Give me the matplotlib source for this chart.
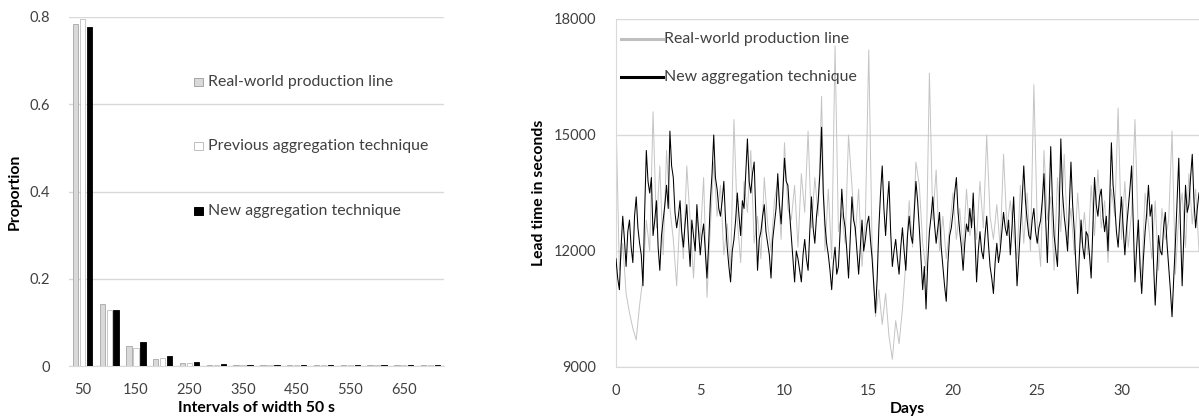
import numpy as np
import matplotlib
matplotlib.use("Agg")
import matplotlib.pyplot as plt
from matplotlib.patches import Rectangle
from matplotlib.lines import Line2D

plt.rcParams['font.family'] = ['Lato', 'DejaVu Sans']

# ---------------- data: left panel ----------------
intervals = [50, 100, 150, 200, 250, 300, 350, 400, 450, 500, 550, 600, 650, 700]
tick_labels = ["50", "150", "250", "350", "450", "550", "650"]
real_world = [0.785, 0.143, 0.045, 0.016, 0.007, 0.003, 0.002, 0.002, 0.0018, 0.0018, 0.0018, 0.0015, 0.0018, 0.0018]
previous = [0.795, 0.128, 0.042, 0.019, 0.007, 0.003, 0.002, 0.002, 0.0018, 0.0018, 0.0018, 0.0015, 0.0018, 0.0018]
new_tech = [0.776, 0.128, 0.056, 0.024, 0.009, 0.004, 0.003, 0.002, 0.0018, 0.0018, 0.0018, 0.0015, 0.0018, 0.0018]
bar_names = ["Real-world production line", "Previous aggregation technique", "New aggregation technique"]

# ---------------- data: right panel ----------------
# New aggregation technique, sampled every 0.1 day
new_step = 0.1
new_lead = [
    11800, 11300, 11000, 12100, 12900, 12300, 11600, 12500, 12800, 12100,
    11700, 12900, 13400, 12600, 12200, 11900, 11100, 13000, 14600, 13800,
    13500, 13900, 12400, 12800, 13300, 12100, 11500, 12400, 12800, 13200,
    13700, 13100, 15100, 14200, 13900, 13000, 12600, 12900, 13300, 12500,
    12100, 12700, 13200, 12300, 11600, 12800, 12400, 12000, 13200, 12500,
    11900, 12400, 12700, 12000, 11300, 12200, 13300, 14000, 15000, 13900,
    13600, 13100, 12900, 13300, 13800, 12800, 12100, 11600, 11200, 12000,
    12300, 12800, 13500, 12900, 12400, 13300, 13100, 14000, 14900, 13800,
    13500, 14000, 14300, 12900, 11500, 12300, 12500, 12900, 13200, 12500,
    12200, 11900, 11300, 12300, 12700, 13100, 14000, 13200, 12700, 13500,
    14400, 13800, 13700, 13000, 12400, 11800, 11200, 12000, 11800, 11500,
    11200, 11900, 12300, 11800, 11500, 12500, 13400, 12600, 12200, 12900,
    13300, 14000, 15200, 13500, 12700, 12200, 11900, 11500, 11000, 11700,
    12100, 11400, 11600, 12500, 13600, 12900, 12600, 12000, 11300, 12300,
    13400, 12800, 12600, 12000, 11400, 12100, 12800, 12000, 12300, 12700,
    12900, 12300, 11800, 11100, 10400, 11300, 12600, 13500, 14200, 13100,
    12400, 13200, 13800, 12500, 11600, 12000, 12300, 11800, 11400, 12100,
    12600, 12000, 11500, 12400, 12900, 12400, 12200, 13000, 13800, 13300,
    12600, 11800, 11000, 11600, 10500, 11700, 12500, 12900, 13400, 12700,
    12200, 12600, 13000, 12100, 11600, 11100, 10700, 11700, 12400, 12600,
    13000, 13500, 13900, 13000, 12500, 12100, 11500, 12200, 12700, 12500,
    13100, 12600, 13500, 12400, 11200, 12000, 12500, 12000, 11800, 12400,
    12900, 12200, 11600, 11300, 10900, 11700, 12200, 11700, 12000, 12500,
    13000, 12600, 12400, 12800, 11900, 12600, 13400, 12300, 11100, 11800,
    12600, 13300, 14200, 13300, 12800, 12400, 12300, 12800, 13100, 12500,
    12200, 12600, 12800, 13300, 14000, 12800, 11700, 13100, 14700, 13300,
    12400, 12000, 11600, 13000, 14900, 13500, 12900, 12500, 12000, 13100,
    14300, 13200, 12500, 11600, 10900, 11900, 12800, 12100, 11800, 12500,
    12400, 11900, 11300, 12600, 13900, 13200, 12900, 13400, 13600, 12900,
    12500, 12900, 12000, 13300, 14800, 13700, 13200, 12500, 12100, 12800,
    13400, 12600, 11900, 12600, 13100, 13600, 14200, 12700, 11200, 12100,
    12800, 11600, 10900, 11800, 12500, 13000, 13700, 12900, 13200, 11700,
    10600, 11500, 12400, 12000, 11900, 12600, 13000, 12200, 11600, 11000,
    10300, 11300, 12200, 13300, 14400, 12600, 11100, 12400, 13700, 13000,
    13200, 13900, 14500, 13300, 12600, 13100, 13500,
]
# Real-world production line, sampled every 0.2 day
real_step = 0.2
real_lead = [
    15500, 11500, 12200, 10900, 10400, 10000, 9700, 10600, 11300, 12800,
    12000, 15600, 12600, 14200, 11900, 14600, 13100, 12300, 11100, 13000,
    11800, 14200, 12800, 11300, 12900, 12300, 13900, 10800, 12600, 14300,
    12900, 13700, 11900, 12700, 11500, 15400, 12800, 11700, 13800, 13000,
    14600, 12200, 12900, 11800, 13900, 12700, 12000, 13300, 13800, 12300,
    14800, 13100, 12800, 13700, 12100, 14000, 13000, 15100, 12600, 13900,
    12900, 16000, 12000, 13600, 11800, 17300, 12500, 13000, 12200, 15000,
    13700, 12400, 13600, 11600, 12800, 17200, 12100, 10300, 11000, 10100,
    10900, 9800, 9200, 10200, 9600, 10500, 11700, 13300, 12100, 14300,
    13700, 12200, 11500, 16600, 12800, 14100, 12000, 12900, 11800, 12600,
    13500, 12300, 13100, 12000, 13600, 12400, 12900, 12300, 13800, 12600,
    15000, 12900, 12300, 13200, 12100, 14500, 12600, 13300, 12400, 11800,
    13700, 12200, 13500, 12000, 16300, 12700, 11600, 14600, 12800, 13400,
    11500, 13900, 12500, 14500, 12300, 13100, 11900, 13500, 12200, 13000,
    11900, 13700, 12400, 14100, 12600, 13300, 11700, 13600, 12900, 15700,
    12300, 13800, 12100, 13000, 15400, 12400, 11300, 13500, 12700, 11800,
    13300, 11500, 13100, 12300, 12800, 15100, 11400, 12900, 13500, 12100,
    14000, 12700, 13600, 12000,
]
line_names = ["Real-world production line", "New aggregation technique"]

W, H = 1199, 420
fig = plt.figure(figsize=(W / 100, H / 100), dpi=100)

def fx(px):
    return px / W

def fy(py):
    return 1 - py / H

txt = "#404040"
grid_c = "#d9d9d9"
fs_tick = 10.5
fs_leg = 11.4
fs_lab = 11.3

# ---------------- left panel ----------------
axL = fig.add_axes([fx(69), fy(366), fx(444) - fx(69), fy(17) - fy(366)])
xpos = np.arange(len(intervals))
bw = 0.2
off = 0.26
axL.bar(xpos - off, real_world, bw, color="#d9d9d9", edgecolor="#a6a6a6", linewidth=0.6, zorder=3)
axL.bar(xpos, previous, bw, color="white", edgecolor="#bfbfbf", linewidth=0.6, zorder=3)
axL.bar(xpos + off, new_tech, bw, color="black", edgecolor="black", linewidth=0.6, zorder=3)
axL.set_xlim(-0.5, len(intervals) - 0.5)
axL.set_ylim(0, 0.8)
axL.set_yticks([0, 0.2, 0.4, 0.6, 0.8])
axL.set_yticklabels(["0", "0.2", "0.4", "0.6", "0.8"])
axL.set_xticks(xpos[::2])
axL.set_xticklabels(tick_labels)
axL.tick_params(length=0, labelsize=fs_tick, colors=txt, pad=12)
axL.tick_params(axis="y", pad=14)
axL.grid(axis="y", color=grid_c, linewidth=1, zorder=0)
for s in ["left", "right", "top"]:
    axL.spines[s].set_visible(False)
axL.spines["bottom"].set_color(grid_c)
axL.spines["bottom"].set_zorder(1)
axL.set_ylabel("Proportion", fontsize=fs_lab, fontweight="bold", color="black", labelpad=5)
axL.set_xlabel("Intervals of width 50 s", fontsize=fs_lab, fontweight="bold", color="black", labelpad=3)

# left legend (manual)
leg_y = [82, 146, 211]
leg_fc = ["#d9d9d9", "white", "black"]
leg_ec = ["#a6a6a6", "#bfbfbf", "black"]
for yy, name, fc, ec in zip(leg_y, bar_names, leg_fc, leg_ec):
    fig.add_artist(Rectangle((fx(194), fy(yy + 4)), fx(9), fy(yy - 4) - fy(yy + 4),
                             transform=fig.transFigure, facecolor=fc, edgecolor=ec, linewidth=0.7))
    fig.text(fx(208), fy(yy), name, fontsize=fs_leg, color=txt, va="center", ha="left")

# ---------------- right panel ----------------
axR = fig.add_axes([fx(616), fy(367), 1 - fx(616), fy(19) - fy(367)])
days_new = np.arange(len(new_lead)) * new_step
days_real = np.arange(len(real_lead)) * real_step
axR.plot(days_real, real_lead, color="#c4c4c4", linewidth=0.7, zorder=2)
axR.plot(days_new, new_lead, color="black", linewidth=0.75, zorder=3)
axR.set_xlim(0, 34.6)
axR.set_ylim(9000, 18000)
axR.set_yticks([9000, 12000, 15000, 18000])
axR.set_xticks([0, 5, 10, 15, 20, 25, 30])
axR.tick_params(length=0, labelsize=fs_tick, colors=txt, pad=12)
axR.tick_params(axis="y", pad=14)
axR.grid(axis="y", color=grid_c, linewidth=1, zorder=0)
for s in ["right", "top"]:
    axR.spines[s].set_visible(False)
axR.spines["left"].set_color(grid_c)
axR.spines["bottom"].set_color(grid_c)
axR.set_ylabel("Lead time in seconds", fontsize=fs_lab, fontweight="bold", color="black", labelpad=6)
axR.set_xlabel("Days", fontsize=fs_lab, fontweight="bold", color="black", labelpad=3)

for yy, name, c in zip([39, 77], line_names, ["#bfbfbf", "black"]):
    fig.add_artist(Line2D([fx(621), fx(663)], [fy(yy), fy(yy)], transform=fig.transFigure,
                          color=c, linewidth=2.2))
    fig.text(fx(664), fy(yy), name, fontsize=fs_leg, color=txt, va="center", ha="left")

fig.savefig("out.png", dpi=100)
